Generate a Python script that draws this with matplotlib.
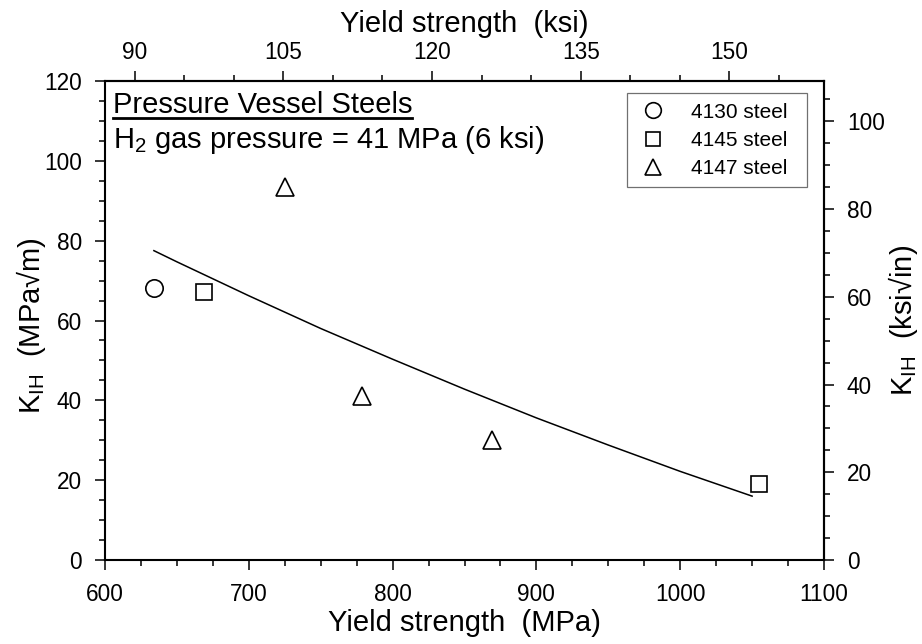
import matplotlib
matplotlib.use('Agg')
import matplotlib.pyplot as plt
from matplotlib.patches import Rectangle
from matplotlib.lines import Line2D
from matplotlib.ticker import MultipleLocator, FixedLocator

plt.rcParams['font.family'] = ['Liberation Sans', 'DejaVu Sans']
plt.rcParams['mathtext.fontset'] = 'custom'
plt.rcParams['mathtext.rm'] = 'Liberation Sans'
plt.rcParams['mathtext.it'] = 'Liberation Sans:italic'
plt.rcParams['mathtext.bf'] = 'Liberation Sans:bold'
plt.rcParams['mathtext.default'] = 'regular'

# ---- data ----
steel_4130_ys = [634]
steel_4130_k = [68.2]
steel_4145_ys = [669, 1055]
steel_4145_k = [67.1, 19.0]
steel_4147_ys = [725, 779, 869]
steel_4147_k = [93.5, 41.0, 30.0]
trend_ys = [634, 650, 700, 750, 800, 850, 900, 950, 1000, 1050]
trend_k = [77.5, 74.7, 66.2, 58.0, 50.3, 42.8, 35.6, 28.8, 22.2, 16.0]

series_labels = ['4130 steel', '4145 steel', '4147 steel']
bottom_ticks = [600, 700, 800, 900, 1000, 1100]
left_ticks = [0, 20, 40, 60, 80, 100, 120]
top_ticks = [90, 105, 120, 135, 150]
right_ticks = [0, 20, 40, 60, 80, 100]

MPA_PER_KSI = 6.895
MPAM_PER_KSIIN = 1.0988

fig = plt.figure(figsize=(9.22, 6.44), dpi=100)
ax = fig.add_axes([105/922, 1-560/644, 719/922, 479/644])

ax.plot(trend_ys, trend_k, color='black', lw=1.1, zorder=2)
mk = dict(ls='none', mfc='none', mec='black', mew=1.2, zorder=3)
ax.plot(steel_4130_ys, steel_4130_k, marker='o', ms=12.5, label=series_labels[0], **mk)
ax.plot(steel_4145_ys, steel_4145_k, marker='s', ms=11, label=series_labels[1], **mk)
ax.plot(steel_4147_ys, steel_4147_k, marker='^', ms=12.5, label=series_labels[2], **mk)

ax.set_xlim(600, 1100)
ax.set_ylim(0, 120)
ax.xaxis.set_major_locator(FixedLocator(bottom_ticks))
ax.xaxis.set_minor_locator(MultipleLocator(25))
ax.yaxis.set_major_locator(FixedLocator(left_ticks))
ax.yaxis.set_minor_locator(MultipleLocator(5))

def style_axis(a):
    a.tick_params(which='both', direction='out', width=1.1, colors='black')
    a.tick_params(which='major', length=7.5, labelsize=16.3)
    a.tick_params(which='minor', length=4.3)

style_axis(ax)
ax.tick_params(axis='x', pad=9)
ax.tick_params(axis='y', pad=9)
for s in ax.spines.values():
    s.set_linewidth(1.5)

ax.set_xlabel('Yield strength  (MPa)', fontsize=21, labelpad=2)
ax.set_ylabel(r'K$_{IH}$  (MPa√m)', fontsize=21)
ax.yaxis.set_label_coords(-0.079, 0.49)

secx = ax.secondary_xaxis('top', functions=(lambda x: x / MPA_PER_KSI, lambda x: x * MPA_PER_KSI))
secx.xaxis.set_major_locator(FixedLocator(top_ticks))
secx.xaxis.set_minor_locator(MultipleLocator(5))
style_axis(secx)
secx.tick_params(axis='x', pad=5)
secx.spines['top'].set_linewidth(1.5)
secx.set_xlabel('Yield strength  (ksi)', fontsize=21, labelpad=6)

secy = ax.secondary_yaxis('right', functions=(lambda y: y / MPAM_PER_KSIIN, lambda y: y * MPAM_PER_KSIIN))
secy.yaxis.set_major_locator(FixedLocator(right_ticks))
secy.yaxis.set_minor_locator(MultipleLocator(5))
style_axis(secy)
secy.tick_params(axis='y', pad=9)
secy.spines['right'].set_linewidth(1.5)
secy.set_ylabel(r'K$_{IH}$  (ksi√in)', fontsize=21, labelpad=1)

# annotation text
title = ax.text(0.011, 0.9326, 'Pressure Vessel Steels', transform=ax.transAxes,
                fontsize=21, va='baseline', ha='left')
ax.text(0.011, 0.860, r'H$_2$ gas pressure = 41 MPa (6 ksi)', transform=ax.transAxes,
        fontsize=21, va='baseline', ha='left')

# legend with a thin grey frame
ax.add_patch(Rectangle((0.726, 0.779), 0.250, 0.196, transform=ax.transAxes,
                       fill=False, ec='#707070', lw=0.9, zorder=4))
ax.legend(loc='upper left', bbox_to_anchor=(0.7477, 0.955), frameon=False,
          borderpad=0, borderaxespad=0, handlelength=1.0, handletextpad=1.33,
          labelspacing=0.45, fontsize=15, markerscale=0.9)

# underline the title
fig.canvas.draw()
bb = title.get_window_extent().transformed(ax.transAxes.inverted())
ax.add_line(Line2D([bb.x0, bb.x1], [0.922, 0.922], transform=ax.transAxes,
                   color='black', lw=2.0, clip_on=False))

fig.savefig('out.png', dpi=100)
